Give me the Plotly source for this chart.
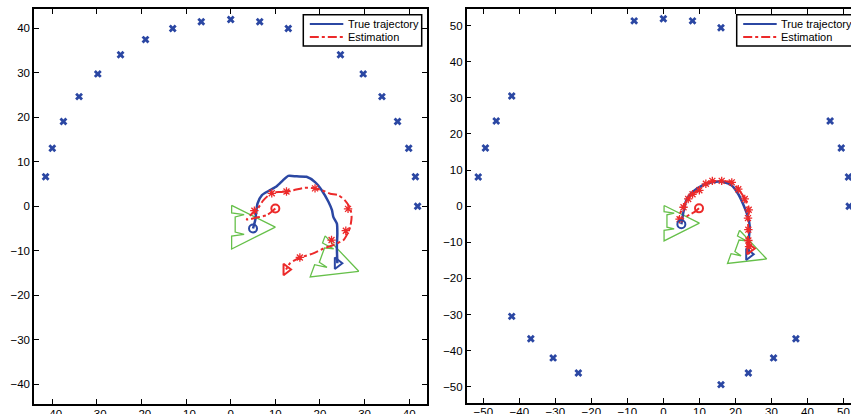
import numpy as np
import plotly.graph_objects as go

# ---------------- data ----------------
# Left panel landmarks
lm_left_x = [-41.5, -40.0, -37.5, -34.0, -29.8, -24.7, -19.1, -13.0, -6.6, 0.0, 6.5, 12.9,
             19.0, 24.6, 29.7, 33.9, 37.4, 39.9, 41.4, 41.9]
lm_left_y = [6.6, 13.0, 19.0, 24.6, 29.7, 34.0, 37.4, 39.9, 41.4, 41.9, 41.4, 39.9,
             37.4, 34.0, 29.7, 24.6, 19.0, 13.0, 6.6, 0.0]

# Right panel landmarks
lm_right_x = [-51.4, -49.4, -46.4, -42.1, -8.1, 0.0, 8.1, 16.0, 46.3, 49.4, 51.4, 51.6,
              -42.1, -36.8, -30.6, -23.6, 16.0, 23.6, 30.6, 36.8]
lm_right_y = [8.1, 16.1, 23.6, 30.5, 51.3, 51.9, 51.3, 49.4, 23.6, 16.1, 8.1, 0.0,
              -30.5, -36.7, -42.0, -46.2, -49.4, -46.2, -42.0, -36.7]

# True trajectory (left panel reading)
true_left_x = [5.0, 5.5, 6.0, 7.0, 8.8, 10.3, 11.7, 12.9, 14.8, 17.0, 18.9, 20.4, 21.9,
               22.7, 23.0, 23.8, 23.9, 23.8, 23.9]
true_left_y = [-5.0, -3.1, 0.6, 2.5, 3.6, 4.5, 5.8, 6.8, 6.7, 6.6, 5.4, 3.6, 1.0,
               -0.9, -2.4, -3.9, -6.1, -9.1, -12.8]

# Estimation (left panel)
est_left_x = [10.0, 8.1, 6.0, 3.6, 4.5, 5.8, 7.3, 9.2, 11.4, 14.1, 16.3, 18.2, 20.4, 22.3,
              24.1, 25.6, 26.8, 27.1, 26.8, 26.2, 25.3, 23.0, 20.8, 18.5, 16.3, 14.8, 13.3, 12.4]
est_left_y = [-0.5, -2.0, -2.5, -3.0, -1.9, -0.9, 1.3, 3.0, 3.2, 3.6, 4.1, 4.1, 3.6, 2.8,
              2.5, 1.3, -0.5, -2.4, -4.6, -6.1, -7.6, -8.7, -9.5, -10.6, -11.3, -11.9, -12.8, -14.2]
cov_left_x = [5.3, 9.2, 12.5, 18.9, 26.3, 25.8, 22.6, 15.5]
cov_left_y = [-1.0, 2.9, 3.3, 4.0, -0.6, -5.5, -7.6, -11.5]

# True trajectory (right panel reading)
true_right_x = [5.0, 5.2, 5.5, 6.4, 8.2, 11.0, 13.8, 16.6, 18.9, 20.7, 22.1, 23.5, 24.0, 23.7, 23.7]
true_right_y = [-5.0, -3.8, -2.0, 1.7, 4.0, 5.8, 6.7, 6.7, 5.8, 3.5, 0.7, -3.0, -5.7, -9.4, -13.3]

# Estimation (right panel)
est_right_x = [9.9, 8.7, 7.5, 4.5, 4.3, 5.5, 6.9, 8.2, 9.6, 11.9, 13.6, 16.1, 18.9, 20.7,
               22.6, 23.8, 23.5, 23.6, 23.5, 23.7, 24.0]
est_right_y = [-0.6, -1.6, -2.2, -3.9, -3.0, -0.2, 2.1, 3.5, 4.3, 6.3, 6.9, 6.9, 6.7, 4.9,
               2.1, -1.1, -3.4, -6.7, -9.5, -11.0, -11.7]
cov_right_x = [4.5, 5.6, 6.9, 8.1, 10.0, 11.8, 13.6, 16.2, 19.0, 20.8, 22.6, 23.7, 23.5, 23.6, 23.6, 23.8]
cov_right_y = [-3.6, -0.3, 2.0, 3.3, 4.4, 6.2, 7.0, 7.0, 6.6, 4.7, 2.0, -1.0, -3.3, -6.5, -9.5, -11.2]

# Vehicle outline (local frame, heading along +u) and poses (x, y, heading deg)
outline_u = [-4.8, 5.0, -4.8, -4.8, -2.0, -4.0, -4.0, -2.0, -4.8, -4.8]
outline_v = [4.9, 0.0, -4.9, -2.0, -1.6, -1.1, 2.3, 2.8, 3.2, 4.9]
vehicle_poses = [(5.0, -4.7, 0.0), (24.0, -12.9, -20.0)]

legend_labels = ["True trajectory", "Estimation"]

# ---------------- styling ----------------
W, H = 851, 414
BLUE = "#2b47a3"
RED = "#ec2a2a"
GREEN = "#66c04a"
FONT = "Liberation Sans, Arial, sans-serif"


def px_x(p):
    return p / W


def px_y(p):
    return 1 - p / H


def vehicle(pose):
    x0, y0, th = pose
    t = np.deg2rad(th)
    u = np.array(outline_u)
    v = np.array(outline_v)
    return x0 + u * np.cos(t) - v * np.sin(t), y0 + u * np.sin(t) + v * np.cos(t)


fig = go.Figure()


def add_panel(xa, ya, lmx, lmy, tx, ty, ex, ey, cx, cy):
    kw = dict(xaxis=xa, yaxis=ya, showlegend=False, hoverinfo="skip")
    fig.add_trace(go.Scatter(x=lmx, y=lmy, mode="markers",
                             marker=dict(symbol="x", size=7, color=BLUE, line=dict(width=0)), **kw))
    for pose in vehicle_poses:
        vx, vy = vehicle(pose)
        fig.add_trace(go.Scatter(x=vx, y=vy, mode="lines", line=dict(color=GREEN, width=1.3), **kw))
    fig.add_trace(go.Scatter(x=tx, y=ty, mode="lines",
                             line=dict(color=BLUE, width=2.5, shape="spline", smoothing=0.6), **kw))
    fig.add_trace(go.Scatter(x=ex, y=ey, mode="lines",
                             line=dict(color=RED, width=2, dash="dashdot", shape="spline", smoothing=0.6), **kw))
    fig.add_trace(go.Scatter(x=cx, y=cy, mode="markers",
                             marker=dict(symbol="asterisk-open", size=7, color=RED,
                                         line=dict(color=RED, width=1.3)), **kw))
    # start / end markers
    fig.add_trace(go.Scatter(x=[tx[0]], y=[ty[0]], mode="markers",
                             marker=dict(symbol="circle-open", size=8, color=BLUE, line=dict(width=2)), **kw))
    fig.add_trace(go.Scatter(x=[tx[-1]], y=[ty[-1]], mode="markers",
                             marker=dict(symbol="triangle-right-open", size=10, color=BLUE, line=dict(width=2)), **kw))
    fig.add_trace(go.Scatter(x=[ex[0]], y=[ey[0]], mode="markers",
                             marker=dict(symbol="circle-open", size=8, color=RED, line=dict(width=2)), **kw))
    fig.add_trace(go.Scatter(x=[ex[-1]], y=[ey[-1]], mode="markers",
                             marker=dict(symbol="triangle-right-open", size=10, color=RED, line=dict(width=2)), **kw))


add_panel("x", "y", lm_left_x, lm_left_y, true_left_x, true_left_y,
          est_left_x, est_left_y, cov_left_x, cov_left_y)
add_panel("x2", "y2", lm_right_x, lm_right_y, true_right_x, true_right_y,
          est_right_x, est_right_y, cov_right_x, cov_right_y)

axis_common = dict(showgrid=False, zeroline=False, showline=True, linecolor="black", linewidth=1.5,
                   ticks="inside", ticklen=5, tickwidth=1, tickcolor="black",
                   tickfont=dict(family=FONT, size=11.5, color="black"), automargin=False)

fig.update_layout(
    width=W, height=H, margin=dict(l=0, r=0, t=0, b=0),
    paper_bgcolor="white", plot_bgcolor="white",
    xaxis=dict(domain=[px_x(34), px_x(427)], range=[-44.1, 44.0], dtick=10, anchor="y",
               mirror="ticks", ticklabelstandoff=-2, **axis_common),
    yaxis=dict(domain=[px_y(404), px_y(9.3)], range=[-44.4, 44.2], dtick=10, anchor="x",
               mirror="ticks", **axis_common),
    xaxis2=dict(domain=[px_x(466.7), 1.0], range=[-54.6, 52.1], dtick=10, anchor="y2",
                mirror="ticks", ticklabelstandoff=-2, **axis_common),
    yaxis2=dict(domain=[px_y(402.7), px_y(9.3)], range=[-54.4, 54.5], dtick=10, anchor="x2",
                mirror=False, **axis_common),
)

# ---------------- legends (one per panel) ----------------
shapes = []
annotations = []
for bx0, bx1 in [(303.3, 421.7), (736.7, 880.0)]:
    shapes.append(dict(type="rect", xref="paper", yref="paper", layer="above",
                       x0=px_x(bx0), x1=px_x(bx1), y0=px_y(46), y1=px_y(14.7),
                       fillcolor="white", line=dict(color="black", width=1.5)))
    for label, yy, col, dash in [(legend_labels[0], 24, BLUE, "solid"), (legend_labels[1], 37, RED, "dashdot")]:
        shapes.append(dict(type="line", xref="paper", yref="paper", layer="above",
                           x0=px_x(bx0 + 6.5), x1=px_x(bx0 + 40), y0=px_y(yy), y1=px_y(yy),
                           line=dict(color=col, width=2.2 if col == BLUE else 2, dash=dash)))
        annotations.append(dict(text=label, xref="paper", yref="paper", showarrow=False,
                                x=px_x(bx0 + 42.5), y=px_y(yy), xanchor="left", yanchor="middle",
                                font=dict(family=FONT, size=11, color="black")))
fig.update_layout(shapes=shapes, annotations=annotations)

fig.write_html("out.html")
